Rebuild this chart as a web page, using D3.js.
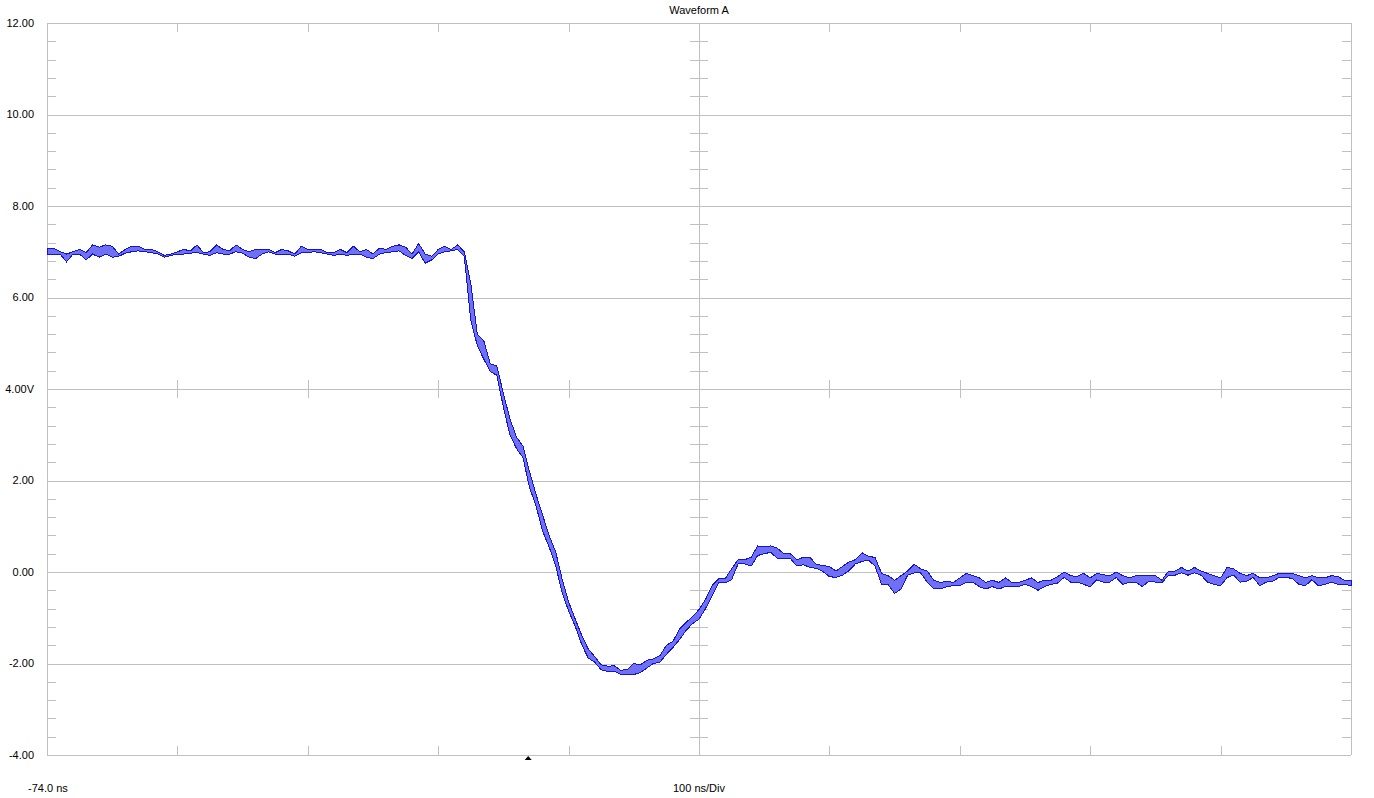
<!DOCTYPE html>
<html>
<head>
<meta charset="utf-8">
<script src="https://cdn.jsdelivr.net/npm/d3@7"></script>
<style>
  body { margin: 0; background: #fff; }
  svg { display: block; }
</style>
</head>
<body>
<svg id="scope"></svg>
<script>
const totalWidth = 1374;
const totalHeight = 798;

// time axis (ns) and volts axis
const startTime = -74;
const nsPerDiv = 100;
const divisions = 10;
const sampleStep = 5;
const triggerTime = 295;
const voltTicks = [12, 10, 8, 6, 4, 2, 0, -2, -4];
const voltLabels = ["12.00", "10.00", "8.00", "6.00", "4.00V", "2.00", "0.00", "-2.00", "-4.00"];

// per-sample max / min envelope (V)
const vMax = [
  7.08, 7.08, 7.00, 6.95, 7.00, 7.05, 6.98, 7.15, 7.10, 7.15,
  7.12, 6.95, 7.05, 7.12, 7.12, 7.05, 7.05, 7.00, 6.92, 6.95,
  7.00, 7.05, 7.02, 7.15, 6.98, 7.00, 7.15, 7.05, 7.02, 7.15,
  7.05, 7.00, 7.05, 7.05, 7.05, 6.98, 7.05, 7.02, 6.95, 7.12,
  7.05, 7.05, 7.05, 6.98, 6.98, 7.05, 6.98, 7.12, 7.00, 7.05,
  6.95, 7.08, 7.05, 7.12, 7.15, 7.10, 6.95, 7.18, 6.95, 6.90,
  7.05, 7.12, 7.05, 7.15, 7.00, 6.30, 5.20, 5.05, 4.55, 4.50,
  3.90, 3.35, 2.95, 2.75, 2.20, 1.70, 1.25, 0.80, 0.45, -0.15,
  -0.65, -1.02, -1.38, -1.68, -1.85, -2.03, -2.06, -2.05, -2.15, -2.13,
  -2.00, -2.03, -1.93, -1.90, -1.83, -1.60, -1.52, -1.25, -1.10, -0.98,
  -0.82, -0.60, -0.30, -0.15, -0.15, 0.07, 0.27, 0.27, 0.32, 0.57,
  0.55, 0.57, 0.52, 0.40, 0.40, 0.27, 0.32, 0.32, 0.17, 0.14,
  0.12, 0.02, 0.12, 0.22, 0.27, 0.42, 0.34, 0.32, -0.03, -0.08,
  -0.18, -0.08, 0.02, 0.17, 0.07, 0.02, -0.18, -0.23, -0.20, -0.23,
  -0.13, -0.03, -0.08, -0.13, -0.23, -0.18, -0.23, -0.13, -0.23, -0.23,
  -0.18, -0.13, -0.23, -0.18, -0.18, -0.10, 0.00, -0.08, -0.10, -0.03,
  -0.13, -0.03, -0.06, -0.08, 0.00, -0.08, -0.13, -0.08, -0.08, -0.08,
  -0.08, -0.18, 0.02, 0.02, 0.10, 0.02, 0.10, 0.02, -0.03, -0.08,
  -0.13, 0.10, 0.07, -0.03, -0.08, -0.03, -0.13, -0.13, -0.08, -0.03,
  -0.03, -0.03, -0.08, -0.13, -0.08, -0.13, -0.13, -0.08, -0.10, -0.18,
  -0.18
];
const vMin = [
  6.95, 6.95, 6.95, 6.78, 6.95, 6.95, 6.82, 6.95, 6.88, 6.95,
  6.88, 6.90, 6.97, 7.00, 7.02, 7.00, 6.98, 6.95, 6.88, 6.92,
  6.95, 6.95, 6.97, 6.98, 6.95, 6.92, 6.98, 6.95, 6.95, 7.00,
  6.97, 6.88, 6.85, 6.95, 7.00, 6.95, 6.95, 6.95, 6.90, 6.98,
  6.98, 7.00, 6.98, 6.95, 6.92, 6.95, 6.92, 6.95, 6.95, 6.88,
  6.85, 6.95, 6.98, 7.00, 7.02, 6.92, 6.85, 7.00, 6.75, 6.82,
  6.95, 7.00, 7.02, 7.05, 6.90, 5.50, 4.95, 4.65, 4.38, 4.30,
  3.60, 3.00, 2.70, 2.50, 1.85, 1.45, 0.90, 0.55, 0.15, -0.45,
  -0.85, -1.18, -1.58, -1.88, -1.97, -2.14, -2.17, -2.17, -2.24, -2.24,
  -2.24, -2.20, -2.10, -2.00, -1.97, -1.80, -1.65, -1.48, -1.28, -1.13,
  -1.03, -0.80, -0.52, -0.24, -0.24, -0.17, 0.18, 0.18, 0.13, 0.36,
  0.40, 0.43, 0.30, 0.30, 0.30, 0.13, 0.16, 0.10, 0.08, 0.01,
  -0.10, -0.12, -0.07, 0.03, 0.18, 0.23, 0.26, 0.13, -0.27, -0.27,
  -0.47, -0.37, -0.07, -0.02, -0.02, -0.22, -0.37, -0.37, -0.32, -0.30,
  -0.30, -0.22, -0.22, -0.32, -0.37, -0.32, -0.37, -0.32, -0.32, -0.32,
  -0.27, -0.32, -0.40, -0.32, -0.27, -0.24, -0.12, -0.22, -0.22, -0.27,
  -0.32, -0.17, -0.22, -0.22, -0.12, -0.27, -0.22, -0.22, -0.32, -0.20,
  -0.22, -0.24, -0.07, -0.07, -0.02, -0.07, -0.02, -0.07, -0.22, -0.27,
  -0.30, -0.12, -0.07, -0.22, -0.20, -0.12, -0.30, -0.22, -0.20, -0.12,
  -0.12, -0.14, -0.27, -0.30, -0.17, -0.30, -0.27, -0.22, -0.27, -0.27,
  -0.30
];

const svg = d3.select('#scope')
    .attr('width', totalWidth)
    .attr('height', totalHeight);

const plotLeft = 47, plotRight = 1351, plotTop = 23, plotBottom = 755;
const endTime = startTime + nsPerDiv * divisions;

const x = d3.scaleLinear().domain([startTime, endTime]).range([plotLeft, plotRight]);
const y = d3.scaleLinear().domain([-4, 12]).range([plotBottom, plotTop]);

const gridColor = "#c0c0c0";
const tickLen = 9;
const fontFamily = "'Liberation Sans', Arial, sans-serif";

const divTimes = d3.range(divisions + 1).map(i => startTime + i * nsPerDiv);
const midTime = startTime + nsPerDiv * divisions / 2;
const minorVolts = d3.range(-4, 12.001, 0.4).filter(v => Math.abs(v / 2 - Math.round(v / 2)) > 1e-6);

const grid = svg.append("g").attr("shape-rendering", "crispEdges")
    .attr("stroke", gridColor).attr("stroke-width", 1);

// horizontal grid lines
grid.selectAll(".hline").data(voltTicks).enter().append("line")
    .attr("x1", plotLeft).attr("x2", plotRight)
    .attr("y1", d => Math.round(y(d)) + 0.5).attr("y2", d => Math.round(y(d)) + 0.5);

// frame sides + center vertical
grid.selectAll(".vline").data([startTime, midTime, endTime]).enter().append("line")
    .attr("x1", d => Math.round(x(d)) + 0.5).attr("x2", d => Math.round(x(d)) + 0.5)
    .attr("y1", plotTop).attr("y2", plotBottom);

// major ticks top / bottom / center axis
const majorDivs = divTimes.filter(t => t !== startTime && t !== endTime && t !== midTime);
majorDivs.forEach(t => {
    const px = Math.round(x(t)) + 0.5;
    grid.append("line").attr("x1", px).attr("x2", px).attr("y1", plotTop).attr("y2", plotTop + tickLen);
    grid.append("line").attr("x1", px).attr("x2", px).attr("y1", plotBottom - tickLen).attr("y2", plotBottom);
    grid.append("line").attr("x1", px).attr("x2", px).attr("y1", y(4) - tickLen).attr("y2", y(4) + tickLen);
});

// minor volt ticks: left, right, center
minorVolts.forEach(v => {
    const py = Math.round(y(v)) + 0.5;
    grid.append("line").attr("x1", plotLeft).attr("x2", plotLeft + tickLen).attr("y1", py).attr("y2", py);
    grid.append("line").attr("x1", plotRight - tickLen).attr("x2", plotRight).attr("y1", py).attr("y2", py);
    grid.append("line").attr("x1", x(midTime) - tickLen).attr("x2", x(midTime) + tickLen).attr("y1", py).attr("y2", py);
});

// waveform envelope
const samples = vMax.map((hi, i) => ({ t: startTime + i * sampleStep, hi: hi, lo: vMin[i] }));
const area = d3.area()
    .x(d => x(d.t))
    .y0(d => y(d.lo))
    .y1(d => y(d.hi));

svg.append("path")
    .datum(samples)
    .attr("d", area)
    .attr("fill", "#7070f4")
    .attr("stroke", "#1414c8")
    .attr("stroke-width", 1)
    .attr("shape-rendering", "crispEdges");

// volt labels
svg.selectAll(".vlabel").data(voltTicks).enter().append("text")
    .attr("x", 34)
    .attr("y", d => y(d))
    .attr("dy", "0.35em")
    .attr("text-anchor", "end")
    .attr("font-family", fontFamily)
    .attr("font-size", "11px")
    .attr("fill", "#000")
    .text((d, i) => voltLabels[i]);

// title + bottom labels
svg.append("text")
    .attr("x", x(midTime)).attr("y", 10).attr("dy", "0.35em")
    .attr("text-anchor", "middle")
    .attr("font-family", fontFamily).attr("font-size", "11px")
    .text("Waveform A");

svg.append("text")
    .attr("x", 28).attr("y", 788).attr("dy", "0.35em")
    .attr("font-family", fontFamily).attr("font-size", "11px")
    .text(startTime.toFixed(1) + " ns");

svg.append("text")
    .attr("x", x(midTime)).attr("y", 788).attr("dy", "0.35em")
    .attr("text-anchor", "middle")
    .attr("font-family", fontFamily).attr("font-size", "11px")
    .text(nsPerDiv + " ns/Div");

// trigger marker
const tx = x(triggerTime);
svg.append("path")
    .attr("d", `M${tx},${plotBottom + 1} L${tx + 3.5},${plotBottom + 5} L${tx - 3.5},${plotBottom + 5} Z`)
    .attr("fill", "#000");
</script>
</body>
</html>
